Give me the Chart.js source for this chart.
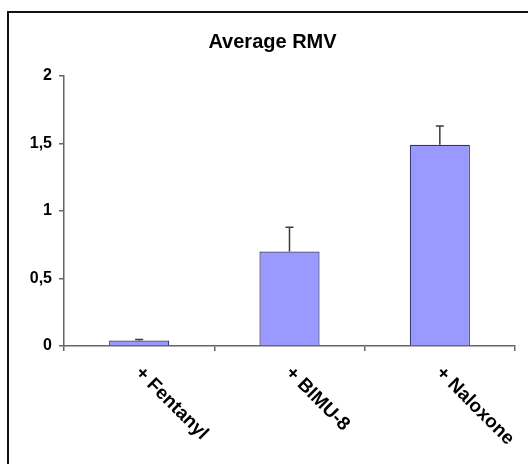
<!DOCTYPE html>
<html>
<head>
<meta charset="utf-8">
<script src="https://cdn.jsdelivr.net/npm/chart.js@4/dist/chart.umd.min.js"></script>
<style>
  html, body { margin: 0; padding: 0; background: #fff; }
  #wrap { position: relative; width: 528px; height: 464px; overflow: hidden; }
  #frame { position: absolute; left: 7px; top: 11px; width: 600px; height: 600px;
           border-left: 2px solid #111; border-top: 2px solid #111; }
  canvas { position: absolute; left: 0; top: 0; }
</style>
</head>
<body>
<div id="wrap">
  <div id="frame"></div>
  <canvas id="c" width="528" height="464"></canvas>
</div>
<script>
const categories = ['+ Fentanyl', '+ BIMU-8', '+ Naloxone'];
const values = [0.04, 0.70, 1.49];
const errors = [0.008, 0.18, 0.14];
const yTicks = [0, 0.5, 1, 1.5, 2];
const chartTitle = 'Average RMV';

const FONT = "'Liberation Sans', Arial, sans-serif";

const errorBars = {
  id: 'errorBars',
  afterDatasetsDraw(chart) {
    const ctx = chart.ctx;
    const ys = chart.scales.y;
    const meta = chart.getDatasetMeta(0);
    ctx.save();
    ctx.strokeStyle = '#3a3a3a';
    ctx.lineWidth = 1.5;
    meta.data.forEach((bar, i) => {
      const x = bar.x;
      const y0 = ys.getPixelForValue(values[i]);
      const y1 = ys.getPixelForValue(values[i] + errors[i]);
      ctx.beginPath();
      ctx.moveTo(x, y0);
      ctx.lineTo(x, y1);
      ctx.moveTo(x - 4, y1);
      ctx.lineTo(x + 4, y1);
      ctx.stroke();
    });
    ctx.restore();
  }
};

const rotatedLabels = {
  id: 'rotatedLabels',
  afterDraw(chart) {
    const ctx = chart.ctx;
    const xs = chart.scales.x;
    ctx.save();
    ctx.fillStyle = '#000';
    ctx.font = 'bold 19px ' + FONT;
    ctx.textAlign = 'left';
    ctx.textBaseline = 'middle';
    categories.forEach((lab, i) => {
      const x = xs.getPixelForValue(i);
      ctx.save();
      ctx.translate(x - 1, xs.top + 24);
      ctx.rotate(Math.PI / 4);
      ctx.fillText(lab, 0, 0);
      ctx.restore();
    });
    ctx.restore();
  }
};

new Chart(document.getElementById('c'), {
  type: 'bar',
  data: {
    labels: categories,
    datasets: [{
      data: values,
      backgroundColor: '#9999ff',
      borderColor: '#33336b',
      borderWidth: 1.2,
      borderSkipped: 'bottom',
      categoryPercentage: 1,
      barPercentage: 0.4
    }]
  },
  options: {
    responsive: false,
    animation: false,
    layout: { padding: { left: 30, right: 13, top: 0, bottom: 0 } },
    plugins: {
      legend: { display: false },
      tooltip: { enabled: false },
      title: {
        display: true,
        text: chartTitle,
        color: '#000',
        font: { family: FONT, size: 20, weight: 'bold' },
        padding: { top: 30, bottom: 22 }
      }
    },
    scales: {
      x: {
        afterFit(s) { s.height = 118; },
        ticks: { display: false },
        grid: { offset: true, drawOnChartArea: false, drawTicks: true, tickLength: 5, color: '#666', lineWidth: 1.5 },
        border: { display: true, color: '#666', width: 1.5 }
      },
      y: {
        min: 0, max: 2,
        afterFit(s) { s.width = 34; },
        afterBuildTicks(s) { s.ticks = yTicks.map(v => ({ value: v })); },
        ticks: {
          color: '#000',
          padding: 7,
          font: { family: FONT, size: 16, weight: 'bold' },
          callback: v => String(v).replace('.', ',')
        },
        grid: { drawOnChartArea: false, drawTicks: true, tickLength: 5, color: '#666', lineWidth: 1.5 },
        border: { display: true, color: '#666', width: 1.5 }
      }
    }
  },
  plugins: [errorBars, rotatedLabels]
});
</script>
</body>
</html>
